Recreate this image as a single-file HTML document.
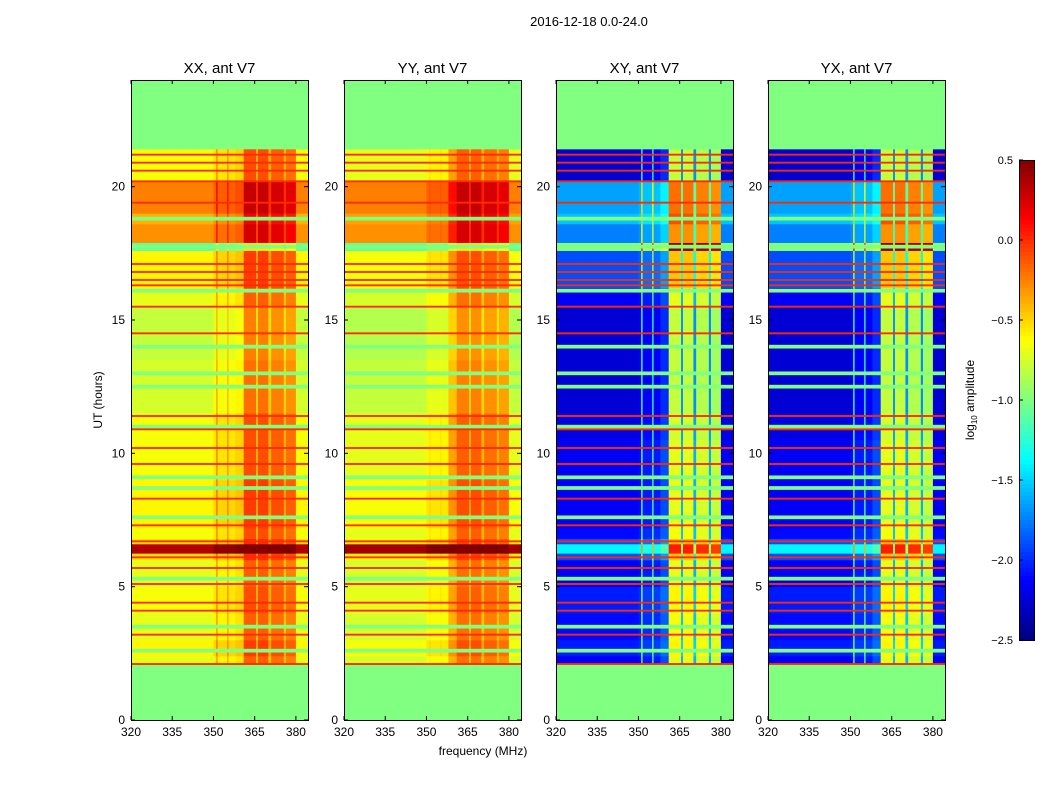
<!DOCTYPE html>
<html><head><meta charset="utf-8"><style>
html,body{margin:0;padding:0;background:#fff;}
#wrap{position:relative;width:1050px;height:800px;font-family:"Liberation Sans",sans-serif;color:#000;}
.t{position:absolute;white-space:nowrap;}
</style></head><body>
<div id="wrap">
<div class="t" style="left:489px;top:14px;width:200px;text-align:center;font-size:13px">2016-12-18 0.0-24.0</div>
<svg id="svg" width="1050" height="800" style="position:absolute;left:0;top:0"></svg>
</div>
<script>
// ---- data ----
const panelTitles = ["XX, ant V7","YY, ant V7","XY, ant V7","YX, ant V7"];
const xTicks = [320,335,350,365,380];
const yTicks = [0,5,10,15,20];
const cbTicks = [0.5,0.0,-0.5,-1.0,-1.5,-2.0,-2.5];
// row segments: start hour and base log10 amplitude
const segStarts = [2.1,2.4,3.0,4.0,5.0,6.0,6.25,6.6,6.8,7.2,9.0,10.5,11.5,13.5,15.5,16.2,17.6,17.9,18.6,19.0,20.2];
const segEnd = 21.4;
const xxRow = [-0.6,-0.5,-0.6,-0.55,-0.6,-0.45,0.45,-0.45,-0.55,-0.5,-0.55,-0.55,-0.65,-0.7,-0.6,-0.5,-1.0,-0.2,-0.3,-0.15,-0.55];
const yyRow = [-0.65,-0.55,-0.65,-0.6,-0.65,-0.5,0.5,-0.5,-0.6,-0.55,-0.6,-0.6,-0.7,-0.75,-0.65,-0.55,-1.0,-0.2,-0.25,-0.15,-0.6];
const xyRow = [-2.15,-2.05,-2.1,-2.05,-2.15,-1.9,-1.4,-1.9,-2.1,-2.15,-2.15,-2.2,-2.25,-2.25,-2.15,-1.9,-1.0,-1.75,-1.55,-1.65,-2.25];
const yxRow = [-2.15,-2.05,-2.1,-2.05,-2.15,-1.9,-1.4,-1.9,-2.1,-2.15,-2.15,-2.2,-2.25,-2.25,-2.15,-1.9,-1.0,-1.75,-1.55,-1.65,-2.25];
// frequency bands: start MHz and offset
const bandStarts = [320,350,351,351.5,355,355.5,358,361,365.5,366.2,370,371,375.6,376.4,380];
const bandEnd = 384.4;
const xxCol = [-0.1,0,0.3,0,0.25,0,0.05,0.45,0.15,0.45,0.15,0.4,0.15,0.35,-0.1];
const yyCol = [-0.1,0,0.05,0,0.05,0,0.25,0.45,0.2,0.45,0.2,0.4,0.2,0.35,-0.1];
const xyCol = [0,0.05,1.1,0.1,1.0,0.1,0.25,1.45,0.55,1.45,0.55,1.4,0.55,1.35,0];
const yxCol = [0,0.05,1.1,0.1,1.0,0.1,0.25,1.45,0.55,1.45,0.55,1.4,0.55,1.35,0];
// flagged rows
const redRows = [2.1,3.2,4.1,4.4,5.1,5.7,6.1,6.7,7.3,8.3,9.6,10.2,10.9,11.4,14.5,15.5,16.3,16.5,16.8,17.1,19.4,20.2,20.6,20.9,21.2];
const greenRows = [2.6,3.5,5.3,7.6,8.7,9.1,11.0,12.5,13.0,14.0,16.1,17.75,18.8];

const rows = [xxRow,yyRow,xyRow,yxRow];
const cols = [xxCol,yyCol,xyCol,yxCol];
const panelX = [131,344,556,768];
const PW = 177, PT = 80, PB = 720;
const fMin = 320, fMax = 384.4, tMin = 0, tMax = 24;
const vMin = -2.5, vMax = 0.5;

const NS = "http://www.w3.org/2000/svg";
const svg = document.getElementById('svg');
function mk(tag, attrs, parent){const e=document.createElementNS(NS,tag);for(const k in attrs)e.setAttribute(k,attrs[k]);(parent||svg).appendChild(e);return e;}
function clip(v){return Math.max(0,Math.min(1,v));}
function jet(v){const t=clip((v-vMin)/(vMax-vMin));const r=clip(1.5-Math.abs(4*t-3)),g=clip(1.5-Math.abs(4*t-2)),b=clip(1.5-Math.abs(4*t-1));return `rgb(${Math.round(r*255)},${Math.round(g*255)},${Math.round(b*255)})`;}
function xs(p,f){return panelX[p]+(f-fMin)/(fMax-fMin)*PW;}
function ys(t){return PB-(t-tMin)/(tMax-tMin)*(PB-PT);}

for(let p=0;p<4;p++){
  const g=mk('g',{});
  
  
  const bg=mk('rect',{x:panelX[p],y:PT,width:PW,height:PB-PT,fill:jet(-1.0)},g);
  
  
  for(let i=0;i<segStarts.length;i++){
    const t0=segStarts[i], t1=i+1<segStarts.length?segStarts[i+1]:segEnd;
    for(let j=0;j<bandStarts.length;j++){
      const f0=bandStarts[j], f1=j+1<bandStarts.length?bandStarts[j+1]:bandEnd;
      const x0=xs(p,f0),x1=xs(p,f1),y0=ys(t1),y1=ys(t0);
      const c=mk('rect',{x:x0,y:y0,width:x1-x0+0.3,height:y1-y0+0.3,fill:jet(rows[p][i]+cols[p][j])},g);
      
      
    }
  }
  greenRows.forEach(h=>{const r=mk('rect',{x:xs(p,fMin),y:ys(h+0.07),width:PW,height:ys(h-0.07)-ys(h+0.07),fill:jet(-1.0)},g);
    
    });
  redRows.forEach(h=>{const r=mk('rect',{x:xs(p,fMin),y:ys(h+0.035),width:PW,height:ys(h-0.035)-ys(h+0.035),fill:jet(0.0)},g);
    
    });
  const fr=mk('rect',{x:panelX[p]+0.5,y:PT+0.5,width:PW,height:PB-PT,fill:'none',stroke:'#000','stroke-width':1},g);
  
  
  const tt=mk('text',{x:panelX[p]+PW/2,y:73,'text-anchor':'middle','font-size':15,'font-family':'Liberation Sans, sans-serif'},g);
  tt.textContent=panelTitles[p];
  
  
  xTicks.forEach(v=>{const x=xs(p,v);
    mk('line',{x1:x,x2:x,y1:PB,y2:PB-4,stroke:'#000'},g);
    mk('line',{x1:x,x2:x,y1:PT,y2:PT+4,stroke:'#000'},g);
    const l=mk('text',{x:x,y:PB+16,'text-anchor':'middle','font-size':12,'font-family':'Liberation Sans, sans-serif'},g);
    l.textContent=v;
    
    });
  yTicks.forEach(v=>{const y=ys(v);
    mk('line',{x1:panelX[p],x2:panelX[p]+4,y1:y,y2:y,stroke:'#000'},g);
    mk('line',{x1:panelX[p]+PW,x2:panelX[p]+PW-4,y1:y,y2:y,stroke:'#000'},g);
    const l=mk('text',{x:panelX[p]-6,y:y+4,'text-anchor':'end','font-size':12,'font-family':'Liberation Sans, sans-serif'},g);
    l.textContent=v;
    
    });
}
const yl=mk('text',{x:102,y:400,'text-anchor':'middle','font-size':12,transform:'rotate(-90 102 400)','font-family':'Liberation Sans, sans-serif'});
yl.textContent='UT (hours)';


const xl=mk('text',{x:483,y:755,'text-anchor':'middle','font-size':12,'font-family':'Liberation Sans, sans-serif'});
xl.textContent='frequency (MHz)';


// colorbar
const cb=mk('g',{});


const cbX=1019,cbW=15,cbT=160,cbB=640;
for(let k=0;k<120;k++){const v0=vMax-(k/120)*(vMax-vMin);
  const r=mk('rect',{x:cbX,y:cbT+k*(cbB-cbT)/120,width:cbW,height:(cbB-cbT)/120+0.5,fill:jet(v0-0.0125)},cb);
  
  }
mk('rect',{x:cbX+0.5,y:cbT+0.5,width:cbW,height:cbB-cbT,fill:'none',stroke:'#000'},cb);
cbTicks.forEach(v=>{const y=cbB-(v-vMin)/(vMax-vMin)*(cbB-cbT);
  mk('line',{x1:cbX,x2:cbX+4,y1:y,y2:y,stroke:'#000'},cb);
  const l=mk('text',{x:1013,y:y+4,'text-anchor':'end','font-size':11,'font-family':'Liberation Sans, sans-serif'},cb);
  l.textContent=v.toFixed(1).replace('-','\u2212');
  
  });
const cl=mk('text',{x:974,y:400,'text-anchor':'middle','font-size':12,transform:'rotate(-90 974 400)','font-family':'Liberation Sans, sans-serif'});
cl.innerHTML='log<tspan font-size="8" dy="3">10</tspan><tspan dy="-3"> amplitude</tspan>';


</script>
</body></html>
